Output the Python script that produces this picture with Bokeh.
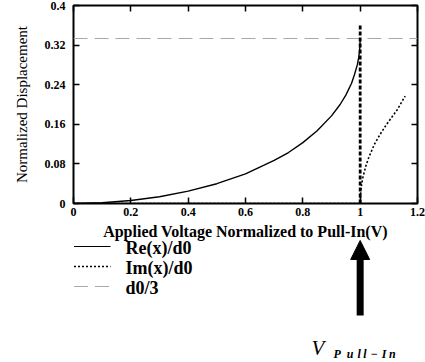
from bokeh.plotting import figure
from bokeh.layouts import column
from bokeh.models import Range1d, LinearAxis, FixedTicker, Arrow, NormalHead
from bokeh.core.properties import value
from bokeh.embed import file_html
from bokeh.resources import INLINE

# ---- data ----
v_re = [0.0, 0.1, 0.2, 0.3, 0.4, 0.5, 0.6, 0.7, 0.75, 0.8, 0.85, 0.9, 0.93, 0.95, 0.97, 0.98, 0.99, 0.995, 0.999, 1.0]
re_x = [0.0, 0.0015, 0.006, 0.0137, 0.025, 0.040, 0.060, 0.087, 0.103, 0.123, 0.147, 0.177, 0.200, 0.219, 0.243, 0.260, 0.280, 0.295, 0.316, 0.333]
v_im = [0.0, 0.5, 1.0, 1.002, 1.005, 1.01, 1.02, 1.03, 1.05, 1.07, 1.09, 1.11, 1.13, 1.157]
im_x = [0.0, 0.0, 0.0, 0.024, 0.038, 0.054, 0.076, 0.093, 0.120, 0.140, 0.158, 0.174, 0.190, 0.217]
d0_third = 0.3333
v_pull_in = 1.0
spike_top = 0.36
x_ticks = [0, 0.2, 0.4, 0.6, 0.8, 1.0, 1.2]
x_tick_labels = ["0", "0.2", "0.4", "0.6", "0.8", "1", "1.2"]
y_ticks = [0, 0.08, 0.16, 0.24, 0.32, 0.4]
y_tick_labels = ["0", "0.08", "0.16", "0.24", "0.32", "0.4"]
legend_labels = ["Re(x)/d0", "Im(x)/d0", "d0/3"]
x_title = "Applied Voltage Normalized to Pull-In(V)"
y_title = "Normalized Displacement"
v_main = "V"
v_sub = "P\u2002u\u2004l\u2009l\u2004\u2212\u2004I\u2009n"   # "Pull−In", letter-spaced
SERIF = "Liberation Serif"

# ---- layout (pixels; the page has no body margin) ----
W = 425
H1, H2 = 221, 141
FL, FT, FW, FH = 73, 5, 344, 198
FR = W - FL - FW
X0, X1, Y0, Y1 = 0.0, 1.2, 0.0, 0.4

def dx(page_x):
    """page pixel x -> data x (both panels share the same horizontal frame)"""
    return X0 + (page_x - FL) / FW * (X1 - X0)

# ---------------- main plot ----------------
p = figure(width=W, height=H1, output_backend="svg", toolbar_location=None,
           x_range=Range1d(X0, X1), y_range=Range1d(Y0, Y1),
           min_border_left=FL, min_border_top=FT,
           min_border_right=FR, min_border_bottom=H1 - FT - FH)
p.grid.visible = False
p.outline_line_color = "black"
p.outline_line_width = 2
p.background_fill_color = "white"
p.border_fill_color = "white"

p.add_layout(LinearAxis(), "above")
p.add_layout(LinearAxis(), "right")

top_ax, bot_ax = p.above[0], p.below[0]
left_ax, right_ax = p.left[0], p.right[0]
for ax in (top_ax, bot_ax):
    ax.ticker = FixedTicker(ticks=x_ticks)
for ax in (left_ax, right_ax):
    ax.ticker = FixedTicker(ticks=y_ticks)

for ax in (top_ax, bot_ax, left_ax, right_ax):
    ax.axis_line_color = None
    ax.major_tick_in = 6
    ax.major_tick_out = 0
    ax.major_tick_line_width = 1.5
    ax.major_tick_line_color = "black"
    ax.minor_tick_line_color = None
    ax.major_label_text_font = SERIF
    ax.major_label_text_font_style = "bold"
    ax.major_label_text_font_size = "12px"
    ax.major_label_text_color = "black"

bot_ax.major_label_overrides = dict(zip(x_ticks, x_tick_labels))
left_ax.major_label_overrides = dict(zip(y_ticks, y_tick_labels))
for ax in (top_ax, right_ax):
    ax.major_label_text_font_size = "1px"
    ax.major_label_text_color = None
    ax.major_label_standoff = 0

bot_ax.major_label_standoff = 4

left_ax.major_label_standoff = 8
left_ax.axis_label = y_title
left_ax.axis_label_text_font = SERIF
left_ax.axis_label_text_font_style = "normal"
left_ax.axis_label_text_font_size = "15px"
left_ax.axis_label_text_color = "black"
left_ax.axis_label_standoff = 12

# ---- series ----
p.line(x=[X0, X1], y=[d0_third, d0_third], line_color="#a8a8a8", line_width=1, line_dash="14 7")
p.line(x=v_re, y=re_x, line_color="black", line_width=1.4)
p.line(x=v_im, y=im_x, line_color="black", line_width=1.6, line_dash="2 2")
p.line(x=[v_pull_in, v_pull_in], y=[Y0, spike_top], line_color="black", line_width=2.8, line_dash="4 2")

# ---------------- lower panel: axis title, legend, pull-in marker ----------------
TOP2 = H1  # page y of the lower panel's top edge
q = figure(width=W, height=H2, output_backend="svg", toolbar_location=None,
           x_range=Range1d(X0, X1), y_range=Range1d(TOP2 + H2, TOP2),
           x_axis_type=None, y_axis_type=None,
           min_border_left=FL, min_border_right=FR, min_border_top=0, min_border_bottom=0)
q.grid.visible = False
q.outline_line_color = None
q.background_fill_color = "white"
q.border_fill_color = "white"

q.text(x=[(X0 + X1) / 2], y=[231], text=[x_title], text_font=value(SERIF), text_font_style="bold",
       text_font_size="16px", text_align="center", text_baseline="middle", text_color="black")

rows = [246, 266, 286]
styles = [dict(line_color="black", line_width=1.2),
          dict(line_color="black", line_width=1.3, line_dash="2 2"),
          dict(line_color="#a8a8a8", line_width=1, line_dash="14 7")]
for yy, st in zip(rows, styles):
    q.line(x=[dx(73.5), dx(110)], y=[yy, yy], **st)
q.text(x=[dx(125)] * 3, y=[r + 1 for r in rows], text=legend_labels, text_font=value(SERIF),
       text_font_style="bold", text_font_size="18px", text_align="left", text_baseline="middle",
       text_color="black")

q.add_layout(Arrow(end=NormalHead(size=19, fill_color="black", line_color="black", line_width=1),
                   x_start=v_pull_in, y_start=315, x_end=v_pull_in, y_end=240,
                   line_color="black", line_width=7))
q.text(x=[dx(311)], y=[347], text=[v_main], text_font=value(SERIF), text_font_style="italic",
       text_font_size="21px", text_align="left", text_baseline="alphabetic", text_color="black")
q.text(x=[dx(333)], y=[353], text=[v_sub], text_font=value(SERIF), text_font_style="bold italic",
       text_font_size="12px", text_align="left", text_baseline="alphabetic", text_color="black")

layout = column(p, q, spacing=0)
open("out.html", "w").write(file_html(layout, INLINE))
